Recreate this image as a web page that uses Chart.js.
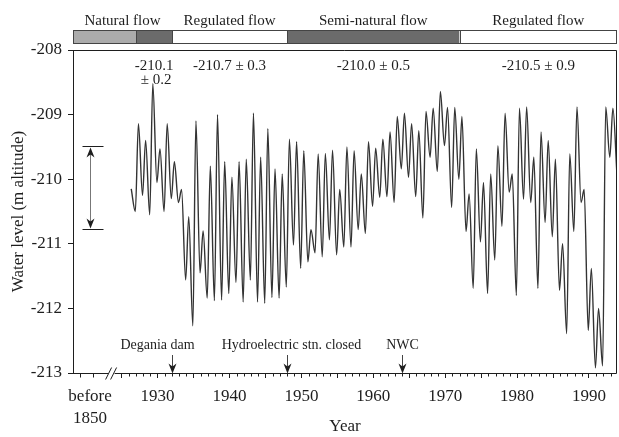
<!DOCTYPE html>
<html>
<head>
<meta charset="utf-8">
<script src="https://cdn.jsdelivr.net/npm/chart.js@4.4.0/dist/chart.umd.min.js"></script>
<style>
  html, body { margin: 0; padding: 0; background: #fff; }
  canvas { display: block; }
</style>
</head>
<body>
<canvas id="levelChart" width="619" height="437"></canvas>
<script>
// Lake level record: one spring high and one autumn low per year (m altitude)
const years = [
  1926, 1927, 1928, 1929, 1930, 1931, 1932, 1933, 1934, 1935,
  1936, 1937, 1938, 1939, 1940, 1941, 1942, 1943, 1944, 1945,
  1946, 1947, 1948, 1949, 1950, 1951, 1952, 1953, 1954, 1955,
  1956, 1957, 1958, 1959, 1960, 1961, 1962, 1963, 1964, 1965,
  1966, 1967, 1968, 1969, 1970, 1971, 1972, 1973, 1974, 1975,
  1976, 1977, 1978, 1979, 1980, 1981, 1982, 1983, 1984, 1985,
  1986, 1987, 1988, 1989, 1990, 1991, 1992, 1993
];
const springHigh = [
  -210.15, -209.14, -209.40, -208.52, -209.53, -209.14, -209.73, -210.16, -210.58, -209.10,
  -210.80, -209.80, -209.00, -209.73, -209.97, -209.73, -209.69, -208.98, -209.66, -209.22,
  -209.84, -209.92, -209.38, -209.42, -209.56, -210.78, -209.61, -209.60, -209.55, -210.16,
  -209.50, -209.56, -209.92, -209.42, -209.52, -209.38, -209.27, -209.03, -208.98, -209.14,
  -209.25, -208.95, -208.90, -208.64, -208.89, -208.89, -209.03, -210.23, -209.53, -210.05,
  -209.92, -209.48, -208.98, -209.92, -208.90, -208.88, -209.66, -209.27, -209.40, -209.69,
  -211.00, -209.61, -208.88, -210.16, -211.38, -212.00, -208.88, -208.90
];
const autumnLow = [
  -210.50, -210.25, -210.55, -210.05, -210.50, -210.30, -210.36, -211.56, -212.27, -211.45,
  -211.84, -211.88, -211.87, -211.77, -211.60, -211.90, -211.56, -211.90, -211.92, -211.83,
  -211.84, -211.67, -211.02, -211.38, -211.28, -211.14, -211.20, -210.94, -211.17, -211.05,
  -211.05, -210.78, -210.84, -210.42, -210.28, -210.27, -210.36, -209.84, -209.97, -210.27,
  -210.60, -209.66, -209.88, -209.48, -210.44, -210.00, -210.81, -211.69, -210.97, -211.77,
  -211.25, -210.73, -210.20, -211.80, -210.31, -210.36, -211.69, -210.67, -210.89, -211.72,
  -212.39, -210.81, -210.36, -212.34, -212.92, -212.89, -209.66, -209.95
];
// fraction of the year at which the high and the low fall
const HIGH_AT = 0.33;
const LOW_AT = 0.9;

// flow regimes along the top band
const recordStart = 1927;
const regimeStart = [1918.23, 1932, 1948, 1972];
const regimeNames = ['Natural flow', 'Regulated flow', 'Semi-natural flow', 'Regulated flow'];
const regimeMean = [-210.1, -210.7, -210.0, -210.5];
const regimeSd = [0.2, 0.3, 0.5, 0.9];

// level range before 1850
const before1850 = 1920.6;
const before1850Range = [-209.48, -210.77];

// events marked on the time axis
const eventYears = [1932, 1948, 1964];
const eventNames = ['Degania dam', 'Hydroelectric stn. closed', 'NWC'];

// axis
const X_MIN = 1918.23, X_MAX = 1993.9;
const AXIS_BREAK = 1923.6;
const decadeTicks = [1930, 1940, 1950, 1960, 1970, 1980, 1990];
const Y_MIN = -213, Y_MAX = -208;

const INK = '#1e1e1e';
const SERIF = "'Liberation Serif', 'Times New Roman', serif";
const bandFill = ['#ababab', '#6b6b6b', '#ffffff', '#6b6b6b', '#ffffff'];
const eventLabelShift = [-15, 4, 0];

const points = [];
years.forEach((yr, i) => {
  points.push({ x: yr + HIGH_AT, y: springHigh[i] });
  points.push({ x: yr + LOW_AT, y: autumnLow[i] });
});

const majorTicks = [before1850];
for (let v = 1925; v <= 1990; v += 5) majorTicks.push(v);

function seg(ctx, x1, y1, x2, y2) {
  ctx.beginPath();
  ctx.moveTo(x1, y1);
  ctx.lineTo(x2, y2);
  ctx.stroke();
}

function arrowHead(ctx, x, y, dir) {
  // dir = 1 points down, -1 points up
  ctx.beginPath();
  ctx.moveTo(x, y);
  ctx.lineTo(x - 4, y - dir * 10);
  ctx.lineTo(x, y - dir * 7);
  ctx.lineTo(x + 4, y - dir * 10);
  ctx.closePath();
  ctx.fill();
}

const annotations = {
  id: 'annotations',
  afterDraw(chart) {
    const { ctx, chartArea: a } = chart;
    const x = chart.scales.x, y = chart.scales.y;
    const px = v => x.getPixelForValue(v);
    const py = v => y.getPixelForValue(v);
    const top = Math.round(a.top) + 0.5, right = Math.round(a.right) - 0.5, bottom = Math.round(a.bottom) + 0.5;

    ctx.save();
    ctx.strokeStyle = INK;
    ctx.fillStyle = INK;
    ctx.lineWidth = 1;

    // frame and broken time axis
    seg(ctx, a.left, top, right, top);
    seg(ctx, right, top, right, bottom);
    const bx = px(AXIS_BREAK);
    seg(ctx, a.left, bottom, bx - 3, bottom);
    seg(ctx, bx + 3, bottom, right, bottom);
    seg(ctx, bx - 6, bottom + 6, bx, bottom - 6);
    seg(ctx, bx - 1, bottom + 6, bx + 5, bottom - 6);
    [1919.2, 1921.0].forEach(v => seg(ctx, Math.round(px(v)) + 0.5, bottom, Math.round(px(v)) + 0.5, bottom + 4));
    for (let yr = 1925; yr <= X_MAX; yr++) {
      if (yr % 5 === 0) continue;
      const tx = Math.round(px(yr)) + 0.5;
      seg(ctx, tx, bottom, tx, bottom + 3);
    }

    // flow regime band
    const bandTop = 30, bandH = 13;
    const edges = [px(regimeStart[0]), px(recordStart)]
      .concat(regimeStart.slice(1).map(px), [a.right]);
    for (let i = 0; i < edges.length - 1; i++) {
      ctx.fillStyle = bandFill[i];
      ctx.fillRect(edges[i], bandTop, edges[i + 1] - edges[i], bandH);
    }
    ctx.strokeStyle = '#444';
    ctx.strokeRect(Math.round(a.left) + 0.5, bandTop + 0.5, right - Math.round(a.left) - 0.5, bandH);
    for (let i = 1; i < edges.length - 1; i++) {
      seg(ctx, Math.round(edges[i]) + 0.5, bandTop, Math.round(edges[i]) + 0.5, bandTop + bandH);
    }

    ctx.fillStyle = INK;
    ctx.textAlign = 'center';
    ctx.textBaseline = 'middle';
    ctx.font = '15px ' + SERIF;
    const ends = regimeStart.slice(1).concat([X_MAX]);
    regimeNames.forEach((name, i) => {
      const cx = (px(regimeStart[i]) + px(ends[i])) / 2;
      ctx.fillText(name, cx, 21);
    });

    // mean ± sd of each regime
    regimeMean.forEach((m, i) => {
      const from = i === 0 ? recordStart : regimeStart[i];
      const cx = (px(from) + px(ends[i])) / 2;
      const mean = m.toFixed(1), sd = '\u00b1 ' + regimeSd[i].toFixed(1);
      if (i === 0) {
        ctx.fillText(mean, cx, 66);
        ctx.fillText(sd, cx + 2, 80);
      } else {
        ctx.fillText(mean + ' ' + sd, cx, 66);
      }
    });

    // events on the time axis
    ctx.font = '14px ' + SERIF;
    eventYears.forEach((yr, i) => {
      const ex = Math.round(px(yr)) + 0.5;
      ctx.fillText(eventNames[i], ex + eventLabelShift[i], 345);
      seg(ctx, ex, 355, ex, bottom - 6);
      arrowHead(ctx, ex, bottom, 1);
    });

    // range before 1850
    const rx = Math.round(px(before1850)) + 0.5;
    const r1 = Math.round(py(before1850Range[0])) + 0.5;
    const r2 = Math.round(py(before1850Range[1])) + 0.5;
    ctx.strokeStyle = INK;
    seg(ctx, rx - 8, r1, rx + 13, r1);
    seg(ctx, rx - 8, r2, rx + 13, r2);
    ctx.strokeStyle = '#777';
    seg(ctx, rx, r1 + 6, rx, r2 - 6);
    ctx.fillStyle = INK;
    arrowHead(ctx, rx, r1 + 1, -1);
    arrowHead(ctx, rx, r2 - 1, 1);

    ctx.restore();
  }
};

Chart.defaults.font.family = SERIF;
Chart.defaults.color = INK;

new Chart(document.getElementById('levelChart').getContext('2d'), {
  type: 'line',
  data: {
    datasets: [{
      data: points,
      borderColor: '#333333',
      borderWidth: 1.4,
      pointRadius: 0,
      cubicInterpolationMode: 'monotone',
      fill: false
    }]
  },
  options: {
    responsive: false,
    animation: false,
    layout: { padding: { top: 50, right: 2, left: 0, bottom: 0 } },
    plugins: { legend: { display: false }, tooltip: { enabled: false } },
    scales: {
      x: {
        type: 'linear',
        min: X_MIN,
        max: X_MAX,
        afterFit(scale) { scale.height = 64; },
        afterBuildTicks(scale) { scale.ticks = majorTicks.map(v => ({ value: v })); },
        ticks: {
          autoSkip: false,
          maxRotation: 0,
          padding: 7,
          font: { size: 17, lineHeight: 1.3 },
          callback(value) {
            if (value === before1850) return ['before', '1850'];
            return decadeTicks.includes(value) ? String(value) : '';
          }
        },
        grid: {
          drawOnChartArea: false,
          tickLength: 5,
          tickColor: c => (c.tick && c.tick.value === before1850 ? 'rgba(0,0,0,0)' : INK)
        },
        border: { display: false },
        title: {
          display: true,
          text: 'Year',
          font: { size: 17 },
          padding: { top: 0, bottom: 0 }
        }
      },
      y: {
        min: Y_MIN,
        max: Y_MAX,
        afterFit(scale) { scale.width = 73; },
        ticks: {
          stepSize: 1,
          padding: 6,
          font: { size: 17 }
        },
        grid: { drawOnChartArea: false, tickLength: 5, color: INK },
        border: { display: true, color: INK },
        title: {
          display: true,
          text: 'Water level (m altitude)',
          font: { size: 17 },
          padding: { top: 8, bottom: 0 }
        }
      }
    }
  },
  plugins: [annotations]
});
</script>
</body>
</html>
